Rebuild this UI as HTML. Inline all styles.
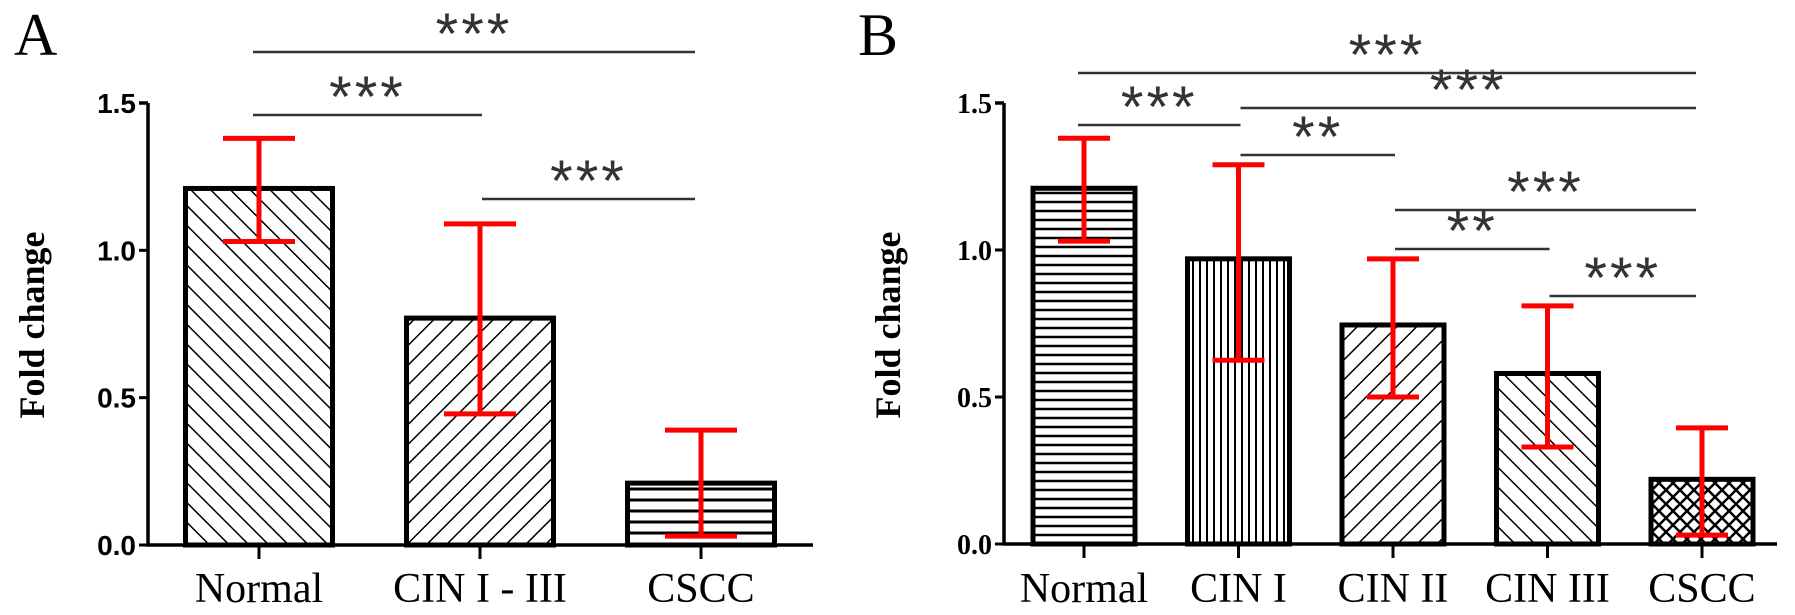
<!DOCTYPE html>
<html><head><meta charset="utf-8"><style>
html,body{margin:0;padding:0;background:#fff;}
svg{display:block;}
</style></head><body>
<svg id="fig" width="1795" height="615" viewBox="0 0 1795 615" xmlns="http://www.w3.org/2000/svg">
<defs>
<pattern id="pBack" patternUnits="userSpaceOnUse" width="14" height="14" patternTransform="rotate(-45)"><line x1="0" y1="0" x2="0" y2="14" stroke="#000" stroke-width="3"/></pattern>
<pattern id="pFwd" patternUnits="userSpaceOnUse" width="14" height="14" patternTransform="rotate(45)"><line x1="0" y1="0" x2="0" y2="14" stroke="#000" stroke-width="3"/></pattern>
<pattern id="pHorA" patternUnits="userSpaceOnUse" width="10" height="11"><line x1="0" y1="5" x2="10" y2="5" stroke="#000" stroke-width="3"/></pattern>
<pattern id="pHorB" patternUnits="userSpaceOnUse" width="10" height="9"><line x1="0" y1="4" x2="10" y2="4" stroke="#000" stroke-width="2.5"/></pattern>
<pattern id="pVer" patternUnits="userSpaceOnUse" width="7" height="10"><line x1="3" y1="0" x2="3" y2="10" stroke="#000" stroke-width="2"/></pattern>
<pattern id="pCross" patternUnits="userSpaceOnUse" width="14" height="14"><path d="M0 0L14 14M14 0L0 14" stroke="#000" stroke-width="2.5"/></pattern>
</defs>
<text x="14" y="55" font-family="Liberation Serif, serif" font-size="60">A</text>
<text x="858" y="55" font-family="Liberation Serif, serif" font-size="60">B</text>
</svg>
<script>
const NS='http://www.w3.org/2000/svg';
const svg=document.getElementById('fig');
// Panel A data
const catsA=['Normal','CIN I - III','CSCC'];
const meansA=[1.21,0.77,0.21];
const lowA=[1.03,0.445,0.03];
const highA=[1.38,1.09,0.39];
const sigFromA=[0,0,1];
const sigToA=[2,1,2];
const sigLabelA=['***','***','***'];
// Panel B data
const catsB=['Normal','CIN I','CIN II','CIN III','CSCC'];
const meansB=[1.21,0.97,0.745,0.58,0.22];
const lowB=[1.03,0.625,0.50,0.33,0.03];
const highB=[1.38,1.29,0.97,0.81,0.395];
const sigFromB=[0,1,0,1,2,2,3];
const sigToB=[4,4,1,2,4,3,4];
const sigLabelB=['***','***','***','**','***','**','***'];
const yTicks=[0,0.5,1.0,1.5];
const yTickLabels=['0.0','0.5','1.0','1.5'];

function mk(tag,attrs,parent){const e=document.createElementNS(NS,tag);for(const k in attrs)e.setAttribute(k,attrs[k]);(parent||svg).appendChild(e);return e;}

function panel(cfg){
  const g=mk('g',{});
  
  
  const y=v=>cfg.y0-v*(cfg.y0-cfg.y15)/1.5;
  const n=cfg.cats.length;
  const cx=i=>cfg.firstC+i*cfg.step;
  cfg.means.forEach((m,i)=>{
    const r=mk('rect',{x:cx(i)-cfg.bw/2,y:y(m),width:cfg.bw,height:y(0)-y(m),fill:'url(#'+cfg.pats[i]+')',stroke:'#000','stroke-width':5},g);
    
    
  });
  cfg.means.forEach((m,i)=>{
    const e=mk('path',{d:`M${cx(i)} ${y(cfg.high[i])}V${y(cfg.low[i])}M${cx(i)-cfg.cap/2} ${y(cfg.high[i])}H${cx(i)+cfg.cap/2}M${cx(i)-cfg.cap/2} ${y(cfg.low[i])}H${cx(i)+cfg.cap/2}`,stroke:'#f00','stroke-width':5,fill:'none'},g);
    
    
  });
  const ax=mk('path',{d:`M${cfg.ax} ${y(1.5)}H${cfg.ax-9}M${cfg.ax} ${y(1.5)}V${y(0)}H${cfg.axEnd}`,stroke:'#000','stroke-width':3.5,fill:'none'},g);
  
  
  yTicks.forEach((t,i)=>{
    mk('line',{x1:cfg.ax-9,x2:cfg.ax,y1:y(t),y2:y(t),stroke:'#000','stroke-width':3},g);
    const tl=mk('text',{x:cfg.ax-12,y:y(t)+10,'text-anchor':'end','font-family':cfg.tickFont,'font-weight':'bold','font-size':28},g);
    tl.textContent=yTickLabels[i];
    
    
  });
  cfg.cats.forEach((c,i)=>{
    mk('line',{x1:cx(i),x2:cx(i),y1:y(0),y2:y(0)+14,stroke:'#000','stroke-width':3},g);
    const t=mk('text',{x:cx(i),y:602,'text-anchor':'middle','font-family':'Liberation Serif, serif','font-size':42},g);
    t.textContent=c;
    
    
  });
  const yt=mk('text',{transform:`translate(${cfg.titleX},325) rotate(-90)`,'text-anchor':'middle','font-family':'Liberation Serif, serif','font-weight':'bold','font-size':36},g);
  yt.textContent='Fold change';
  
  
  cfg.sigFrom.forEach((f,k)=>{
    const ly=cfg.sigY[k];
    const x1=cx(f)+(f===0?-6:2), x2=cx(cfg.sigTo[k])+(cfg.sigTo[k]===n-1?-6:2);
    const l=mk('line',{x1:x1,x2:x2,y1:ly,y2:ly,stroke:'#333','stroke-width':2.5},g);
    
    
    const s=mk('text',{x:(x1+x2)/2,y:ly+2,'text-anchor':'middle','font-family':'Liberation Sans, sans-serif','font-size':58,'letter-spacing':3,fill:'#333'},g);
    s.textContent=cfg.sigLabel[k];
    
    
  });
}
panel({name:'panel-a',cats:catsA,means:meansA,low:lowA,high:highA,sigFrom:sigFromA,sigTo:sigToA,sigLabel:sigLabelA,
  sigY:[52,115,199],y0:545,y15:103,ax:148,axEnd:813,firstC:259,step:221,bw:147,cap:72,
  pats:['pBack','pFwd','pHorA'],tickFont:'Liberation Sans, sans-serif',titleX:44});
panel({name:'panel-b',cats:catsB,means:meansB,low:lowB,high:highB,sigFrom:sigFromB,sigTo:sigToB,sigLabel:sigLabelB,
  sigY:[73,108,125,155,210,249,296],y0:544,y15:103,ax:1004,axEnd:1777,firstC:1084,step:154.5,bw:102,cap:52,
  pats:['pHorB','pVer','pFwd','pBack','pCross'],tickFont:'Liberation Serif, serif',titleX:900});
</script>
</body></html>
